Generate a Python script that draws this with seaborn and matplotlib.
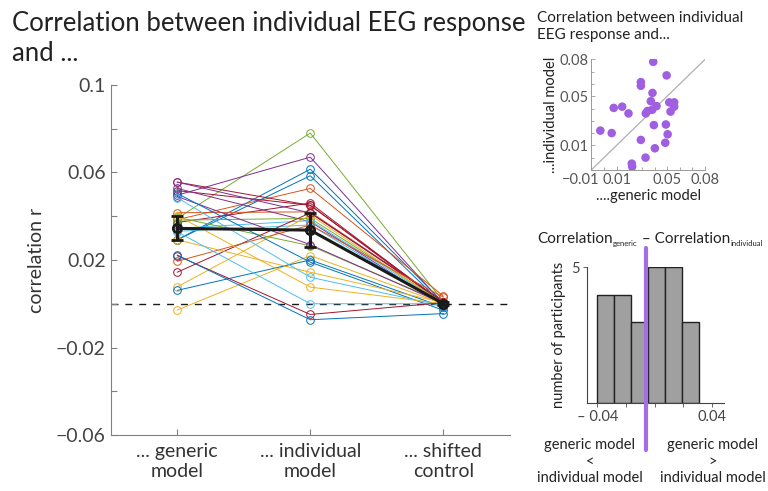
import numpy as np
import pandas as pd
import matplotlib
matplotlib.use("Agg")
import matplotlib.pyplot as plt
import matplotlib.transforms as mtrans
import seaborn as sns

# values
conditions = ["... generic\nmodel", "... individual\nmodel", "... shifted\ncontrol"]
generic = [0.039, 0.0496, 0.0292, 0.0292, 0.0384, 0.0371, 0.0416, 0.0517, 0.0556, 0.0556,
           0.0527, 0.0382, 0.0345, 0.0331, 0.0077, 0.0144, 0.0194, -0.0029, 0.0061, 0.0395,
           0.049, 0.0504, 0.0292, 0.0485, 0.0403, 0.0329, 0.022, 0.0223]
individual = [0.078, 0.067, 0.0615, 0.0585, 0.0527, 0.046, 0.042, 0.045, 0.045, 0.0415,
              0.0375, 0.039, 0.038, 0.036, 0.0405, 0.0415, 0.036, 0.022, 0.02, 0.0265,
              0.027, 0.019, 0.0144, 0.0121, 0.0076, 0.0, -0.0049, -0.0073]
shifted = [0.001, 0.0, 0.0005, -0.0005, 0.0035, 0.0, 0.001, 0.0005, 0.0, 0.001,
           -0.001, 0.0005, 0.0, -0.0005, 0.0, 0.001, 0.003, 0.0, -0.0015, 0.0005,
           0.0, -0.003, 0.0005, -0.001, 0.0, 0.0, 0.0005, -0.0045]
mean_err = [0.0055, 0.0079, 0.0006]

hist_edges = [-0.04, -0.0282, -0.0164, -0.0046, 0.0072, 0.019, 0.0308]
hist_counts = [4, 4, 3, 5, 5, 3]
diff_marker = -0.0062

# matlab line colours per participant
blue, orange, yellow, purple = "#0072BD", "#D95319", "#EDB120", "#7E2F8E"
green, lblue, dred = "#77AC30", "#4DBEEE", "#A2142F"
line_colors = [green, purple, blue, blue, orange, dred, orange, dred, dred, purple,
               purple, green, lblue, lblue, yellow, dred, orange, yellow, blue, green,
               purple, blue, yellow, lblue, yellow, lblue, dred, blue]

sns.set_theme(style="white")
plt.rcParams["font.family"] = ["Lato", "DejaVu Sans"]

fig = plt.figure(figsize=(7.68, 4.91), dpi=100)

# ---- main panel
ax = fig.add_axes([0.144, 0.114, 0.52, 0.713])
n = len(generic)
pid = [f"p{i:02d}" for i in range(n)]
df = pd.DataFrame({
    "participant": pid * 3,
    "condition": np.repeat(conditions, n),
    "r": generic + individual + shifted,
})
sns.lineplot(data=df, x="condition", y="r", hue="participant", palette=line_colors,
             marker="o", estimator=None, lw=0.7, ms=5.5, legend=False, ax=ax)
for line in ax.lines:
    line.set_markerfacecolor("none")
    line.set_markeredgecolor(line.get_color())
    line.set_markeredgewidth(0.7)

means = [np.mean(generic), np.mean(individual), np.mean(shifted)]
ax.errorbar(conditions, means, yerr=mean_err, color="k", lw=2.2, marker="o", ms=6,
            mfc="none", mew=2, capsize=4, capthick=2, zorder=5)
ax.axhline(0, color="k", lw=1, ls=(0, (5, 5)), zorder=0)

ax.set_xlim(-0.5, 2.5)
ax.set_ylim(-0.06, 0.1)
ax.set_yticks([0.1, 0.06, 0.02, -0.02, -0.06])
ax.set_yticklabels(["0.1", "0.06", "0.02", "\u22120.02", "\u22120.06"])
ax.set_yticks([0.08, 0.04, 0.0, -0.04], minor=True)
ax.tick_params(direction="in", length=4, width=0.8, colors="#808080",
               labelcolor="#444444", labelsize=14, which="both", left=True, bottom=True)
ax.tick_params(axis="x", labelsize=14, labelcolor="#333333", pad=6)
for s in ["top", "right"]:
    ax.spines[s].set_visible(False)
for s in ["left", "bottom"]:
    ax.spines[s].set_color("#808080")
    ax.spines[s].set_linewidth(0.8)
ax.set_xlabel("")
ax.set_ylabel("correlation r", fontsize=14, color="#333333", labelpad=8)

fig.text(0.015, 0.977, "Correlation between individual EEG response\nand ...",
         fontsize=18.5, color="#222222", va="top", ha="left", linespacing=1.25)

# ---- scatter inset
ax2 = fig.add_axes([0.770, 0.654, 0.148, 0.225])
sns.scatterplot(x=generic, y=individual, color="#A05EE0", s=38, edgecolor="none", ax=ax2, zorder=3)
ax2.axline((0, 0), slope=1, color="#b0b0b0", lw=0.9, zorder=1)
ax2.set_xlim(-0.01, 0.08)
ax2.set_ylim(-0.01, 0.08)
ax2.set_xticks([-0.01, 0.01, 0.05, 0.08])
ax2.set_xticklabels(["\u22120.01", "0.01", "0.05", "0.08"])
ax2.set_yticks([0.01, 0.05, 0.08])
ax2.set_yticklabels(["0.01", "0.05", "0.08"])
ax2.set_xticks(np.arange(-0.01, 0.081, 0.01), minor=True)
ax2.set_yticks(np.arange(-0.01, 0.081, 0.01), minor=True)
ax2.tick_params(direction="in", length=3, width=0.6, colors="#999999",
                labelcolor="#555555", labelsize=10.5, which="both", left=True, bottom=True, pad=2)
ax2.tick_params(which="minor", length=2)
first = ax2.get_xticklabels()[0]
first.set_ha("right")
first.set_transform(first.get_transform() + mtrans.ScaledTranslation(6 / 72, 0, fig.dpi_scale_trans))
for s in ["top", "right"]:
    ax2.spines[s].set_visible(False)
for s in ["left", "bottom"]:
    ax2.spines[s].set_color("#999999")
    ax2.spines[s].set_linewidth(0.7)
ax2.set_xlabel("....generic model", fontsize=10.5, color="#222222", labelpad=2)
ax2.set_ylabel("...individual model", fontsize=10.5, color="#222222", labelpad=1)
fig.text(0.699, 0.978, "Correlation between individual\nEEG response and...",
         fontsize=11, color="#222222", va="top", ha="left", linespacing=1.3)

# ---- histogram inset
ax3 = fig.add_axes([0.764, 0.1786, 0.179, 0.277])
centers = [(a + b) / 2 for a, b in zip(hist_edges[:-1], hist_edges[1:])]
sns.histplot(x=centers, weights=hist_counts, bins=hist_edges, color="#a0a0a0",
             edgecolor="#222222", linewidth=1, alpha=1, ax=ax3)
ax3.axvline(diff_marker, ymin=-0.34, ymax=1.14, color="#A66EE6", lw=3, clip_on=False, zorder=5)
ax3.set_xlim(-0.0475, 0.0485)
ax3.set_ylim(0, 5)
ax3.set_yticks([5])
ax3.set_xticks([-0.04, -0.02, 0.0, 0.02, 0.04])
ax3.set_xticklabels(["\u2013 0.04", "", "", "", "0.04"])
ax3.tick_params(direction="out", length=3, width=0.7, colors="#666666",
                labelcolor="#444444", labelsize=10.5, left=True, bottom=True, pad=2)
for s in ["top", "right"]:
    ax3.spines[s].set_visible(False)
for s in ["left", "bottom"]:
    ax3.spines[s].set_color("#444444")
    ax3.spines[s].set_linewidth(0.8)
ax3.set_ylabel("number of participants", fontsize=10.5, color="#222222", labelpad=4)

# title of histogram built from pieces: big text with tiny subscripts
renderer = fig.canvas.get_renderer()
pieces = [("Correlation", 11, 0), ("generic", 5.5, -3), (" \u2013 Correlation", 11, 0), ("individual", 5.5, -3)]
W, H = fig.bbox.width, fig.bbox.height
x_px = 0.699 * W
base_px = H - 243
for txt, size, dy in pieces:
    t = fig.text(x_px / W, (base_px + dy) / H, txt,
                 fontsize=size, color="#222222", ha="left", va="baseline")
    x_px += t.get_window_extent(renderer).width + (1 if size < 8 else 0)

fig.text(0.768, 0.108, "generic model\n<\nindividual model", fontsize=10.5,
         color="#222222", ha="center", va="top", linespacing=1.25)
fig.text(0.928, 0.108, "generic model\n>\nindividual model", fontsize=10.5,
         color="#222222", ha="center", va="top", linespacing=1.25)

fig.savefig("out.png", dpi=100)
